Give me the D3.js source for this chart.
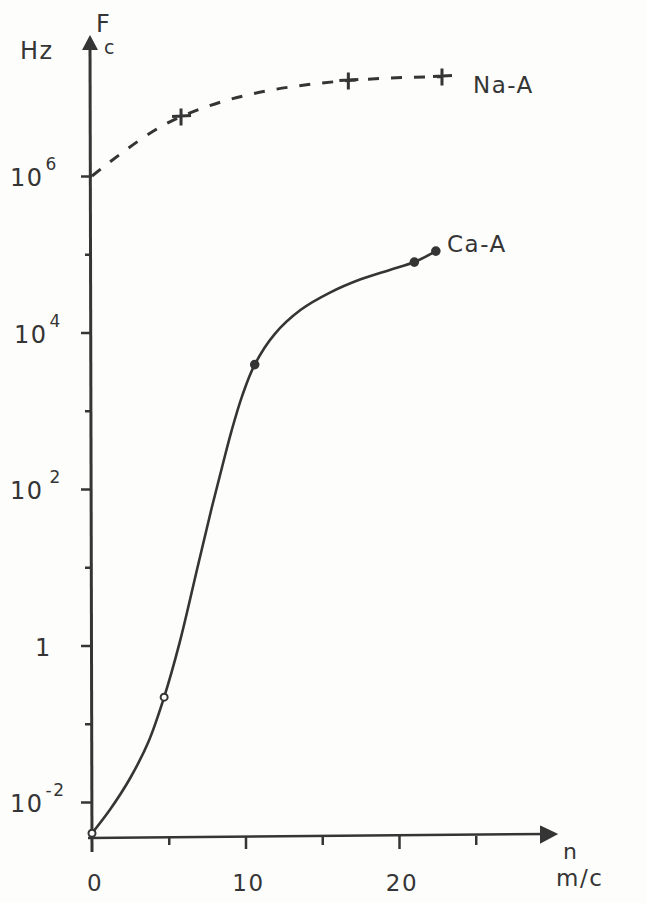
<!DOCTYPE html>
<html lang="en">
<head>
  <meta charset="UTF-8">
  <title>Fc vs n</title>
  <script src="https://d3js.org/d3.v7.min.js"></script>
  <style>
    body { margin: 0; background: #fdfdfc; }
    text { font-family: "DejaVu Sans", sans-serif; fill: #353535; letter-spacing: 1.5px; }
  </style>
</head>
<body>
  <div id="chart"></div>

  <script>
    // x: n (m/c), y: exponent of Fc in Hz
    const xTicks = [0, 5, 10, 15, 20, 25];
    const xLabels = [0, 10, 20];
    const yTickExps = [-2, -1, 0, 1, 2, 3, 4, 5, 6];
    const yLabelExps = [-2, 0, 2, 4, 6];

    // Na-A dashed curve
    const naN = [0, 5.8, 16.7, 22.8];
    const naExp = [6.0, 6.76, 7.22, 7.27];
    const naMarks = [1, 2, 3];

    // Ca-A measured points
    const caPointN = [0, 4.7, 10.6, 21.0, 22.4];
    const caPointExp = [-2.4, -0.66, 3.59, 4.9, 5.04];
    const caOpen = [true, true, false, false, false];

    // Ca-A drawn curve
    const caN = [0, 1.2, 2.5, 3.7, 4.7, 5.7, 6.9, 7.8, 8.5, 9.1, 9.8, 10.6, 11.9, 13.6, 15.5, 17.5, 19.4, 21.0, 22.4];
    const caExp = [-2.4, -2.09, -1.69, -1.22, -0.66, 0.03, 1.02, 1.76, 2.3, 2.75, 3.2, 3.59, 3.98, 4.29, 4.51, 4.68, 4.8, 4.9, 5.04];

    const width = 647, height = 903;
    const ink = "#353535";

    const svg = d3.select("#chart").append("svg")
      .attr("width", width)
      .attr("height", height);

    const x = d3.scaleLinear().domain([0, 20]).range([92, 399]);
    const y = d3.scaleLog().domain([1e-2, 1e6]).range([802, 176]);
    const x0 = x(0), yAxisPos = 838;

    // axes lines
    svg.append("line")
      .attr("x1", x0 - 2).attr("x2", x0)
      .attr("y1", 44).attr("y2", 852)
      .attr("stroke", ink).attr("stroke-width", 3);
    svg.append("path")
      .attr("d", `M${x0 - 10},50 L${x0 - 2},35 L${x0 + 6},50 Z`)
      .attr("fill", ink);

    svg.append("line")
      .attr("x1", x0 - 4).attr("x2", 548)
      .attr("y1", yAxisPos).attr("y2", yAxisPos - 4)
      .attr("stroke", ink).attr("stroke-width", 2.5);
    svg.append("path")
      .attr("d", `M541,${yAxisPos - 11} L556,${yAxisPos - 4} L541,${yAxisPos + 4} Z`)
      .attr("fill", ink).attr("stroke", ink).attr("stroke-width", 2);

    // y ticks
    const yAxis = d3.axisLeft(y)
      .tickValues(yTickExps.map(e => Math.pow(10, e)))
      .tickSize(11)
      .tickFormat("");
    const gy = svg.append("g")
      .attr("transform", `translate(${x0},0)`)
      .call(yAxis);
    gy.select(".domain").remove();
    gy.selectAll(".tick line")
      .attr("stroke", ink).attr("stroke-width", 2.5)
      .attr("x2", (d) => Math.round(Math.log10(d)) % 2 === 0 ? -11 : -7);

    // x ticks
    const xAxis = d3.axisBottom(x)
      .tickValues(xTicks.slice(1))
      .tickSize(10)
      .tickFormat("");
    const gx = svg.append("g")
      .attr("transform", `translate(0,${yAxisPos - 2})`)
      .call(xAxis);
    gx.select(".domain").remove();
    gx.selectAll(".tick line")
      .attr("stroke", ink).attr("stroke-width", 2.5)
      .attr("y2", d => d % 10 === 0 ? 13 : 9);

    // y labels
    yLabelExps.forEach(e => {
      const t = svg.append("text")
        .attr("y", y(Math.pow(10, e)) + 10)
        .attr("font-size", 24);
      if (e === 0) {
        t.attr("x", 35).text("1");
      } else {
        t.attr("x", e === 4 ? 14 : 10);
        t.append("tspan").text("10");
        t.append("tspan")
          .attr("dx", e === 2 ? 6 : 2)
          .attr("dy", -16)
          .attr("font-size", 17)
          .text(e < 0 ? "-" + Math.abs(e) : e);
      }
    });

    // x labels
    svg.selectAll(".xlab")
      .data(xLabels)
      .enter().append("text")
      .attr("class", "xlab")
      .attr("x", d => x(d) + 3)
      .attr("y", 891)
      .attr("text-anchor", "middle")
      .attr("font-size", 23)
      .text(d => d);

    // axis titles
    svg.append("text").attr("x", 20).attr("y", 59).attr("font-size", 24).text("Hz");
    svg.append("text").attr("x", 96).attr("y", 32).attr("font-size", 24).text("F");
    svg.append("text").attr("x", 104).attr("y", 54).attr("font-size", 19).text("c");
    svg.append("text").attr("x", 563).attr("y", 859).attr("font-size", 22).text("n");
    svg.append("text").attr("x", 556).attr("y", 886).attr("font-size", 23).text("m/c");

    // Na-A
    const naData = naN.map((n, i) => ({ n: n, f: Math.pow(10, naExp[i]) }));
    const line = d3.line()
      .x(d => x(d.n))
      .y(d => y(d.f))
      .curve(d3.curveMonotoneX);

    svg.append("path")
      .datum(naData)
      .attr("d", line)
      .attr("fill", "none")
      .attr("stroke", ink)
      .attr("stroke-width", 3)
      .attr("stroke-dasharray", "11,12");

    naMarks.forEach(i => {
      const px = x(naData[i].n), py = y(naData[i].f);
      svg.append("path")
        .attr("d", `M${px - 9},${py} L${px + 10},${py - 1} M${px},${py - 8} L${px},${py + 9}`)
        .attr("stroke", ink).attr("stroke-width", 3);
    });
    svg.append("text")
      .attr("x", 473).attr("y", 93)
      .attr("font-size", 23)
      .text("Na-A");

    // Ca-A
    const caData = caN.map((n, i) => ({ n: n, f: Math.pow(10, caExp[i]) }));
    svg.append("path")
      .datum(caData)
      .attr("d", line.curve(d3.curveCatmullRom))
      .attr("fill", "none")
      .attr("stroke", ink)
      .attr("stroke-width", 2.6);

    const caPts = caPointN.map((n, i) => ({ n: n, f: Math.pow(10, caPointExp[i]), open: caOpen[i] }));
    svg.selectAll(".capt")
      .data(caPts)
      .enter().append("circle")
      .attr("class", "capt")
      .attr("cx", d => x(d.n))
      .attr("cy", d => y(d.f))
      .attr("r", d => d.open ? 3.5 : 3.8)
      .attr("fill", d => d.open ? "#fdfdfc" : ink)
      .attr("stroke", ink)
      .attr("stroke-width", 2);

    svg.append("text")
      .attr("x", 447).attr("y", 252)
      .attr("font-size", 23)
      .text("Ca-A");
  </script>
</body>
</html>
